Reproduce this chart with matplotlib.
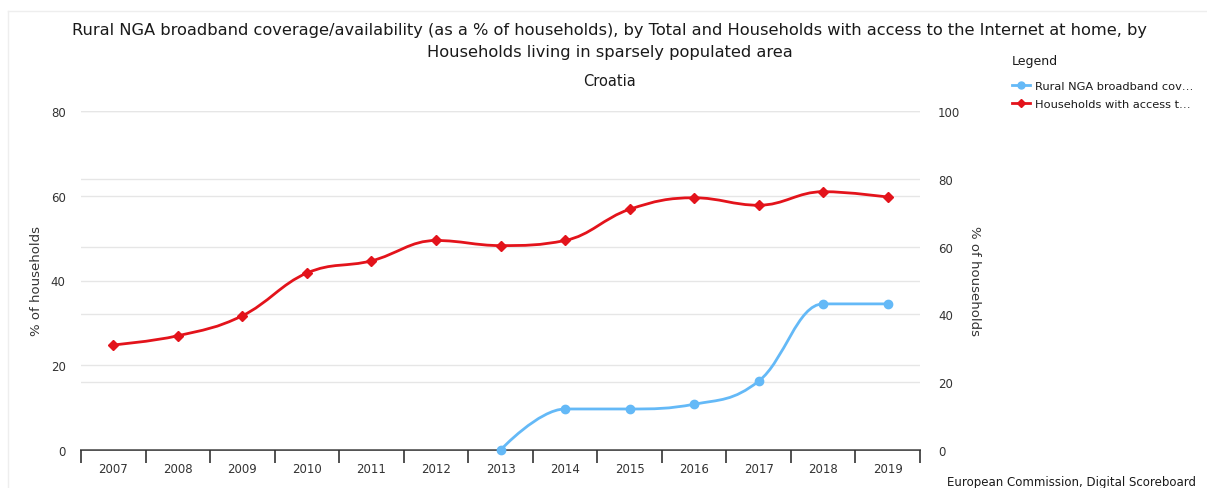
""" Rural NGA coverage vs. households with internet access, Croatia (sparsely populated areas). """

import matplotlib
matplotlib.use('Agg')
import matplotlib.pyplot as plt
from matplotlib.path import Path
from matplotlib.patches import PathPatch
from matplotlib.lines import Line2D
import numpy as np

years = ['2007', '2008', '2009', '2010', '2011', '2012', '2013',
         '2014', '2015', '2016', '2017', '2018', '2019']
# Rural NGA broadband coverage, only from 2013 on
nga_years = ['2013', '2014', '2015', '2016', '2017', '2018', '2019']
nga_vals = [0.0, 12.1, 12.1, 13.5, 20.3, 43.1, 43.1]
# Households with access to the Internet at home (sparsely populated area)
hh_vals = [31.0, 33.7, 39.6, 52.2, 55.8, 61.8, 60.3, 61.8, 71.0, 74.4, 72.2, 76.2, 74.6]

RED = '#e3131b'
BLUE = '#64b9f7'
GRID = '#e6e6e6'
TXT = '#333333'
DARK = '#1a1a1a'


def spline_path(x, y, smoothing=1.5):
    """ Highcharts-like spline: cubic bezier through every point """
    n = len(x)
    verts = [(x[0], y[0])]
    codes = [Path.MOVETO]
    right = [(x[0], y[0])] * n
    left = [(x[0], y[0])] * n
    for i in range(n):
        if i == 0 or i == n - 1:
            left[i] = (x[i], y[i])
            right[i] = (x[i], y[i])
            continue
        d = smoothing + 1
        lx = (smoothing * x[i] + x[i-1]) / d
        ly = (smoothing * y[i] + y[i-1]) / d
        rx = (smoothing * x[i] + x[i+1]) / d
        ry = (smoothing * y[i] + y[i+1]) / d
        corr = 0
        if rx != lx:
            corr = (ry - ly) * (rx - x[i]) / (rx - lx) + y[i] - ry
        ly += corr
        ry += corr
        if ly > y[i-1] and ly > y[i]:
            ly = max(y[i-1], y[i]); ry = 2*y[i] - ly
        elif ly < y[i-1] and ly < y[i]:
            ly = min(y[i-1], y[i]); ry = 2*y[i] - ly
        if ry > y[i+1] and ry > y[i]:
            ry = max(y[i+1], y[i]); ly = 2*y[i] - ry
        elif ry < y[i+1] and ry < y[i]:
            ry = min(y[i+1], y[i]); ly = 2*y[i] - ry
        left[i] = (lx, ly)
        right[i] = (rx, ry)
    for i in range(1, n):
        verts += [right[i-1], left[i], (x[i], y[i])]
        codes += [Path.CURVE4] * 3
    return Path(verts, codes)


plt.rcParams['font.family'] = ['DejaVu Sans']
W, H = 1207, 489
fig = plt.figure(figsize=(W/100, H/100), dpi=100)
fig.patch.set_facecolor('white')

ax = fig.add_axes([81/W, 1 - 451/H, 839/W, 339/H])
ax2 = ax.twinx()

xs = np.arange(len(years))
ax.set_xlim(-0.5, len(years) - 0.5)
ax.set_ylim(0, 80)
ax2.set_ylim(0, 100)
ax.set_yticks([0, 20, 40, 60, 80])
ax2.set_yticks([0, 20, 40, 60, 80, 100])

for a in (ax, ax2):
    for s in ['top', 'left', 'right', 'bottom']:
        a.spines[s].set_visible(False)
    a.tick_params(axis='y', length=0, labelsize=8.5, labelcolor=TXT)
    a.grid(axis='y', color=GRID, lw=1)
    a.set_axisbelow(True)
ax.spines['bottom'].set_visible(True)
ax.spines['bottom'].set_color(TXT)
ax.spines['bottom'].set_linewidth(1.2)
ax.tick_params(axis='y', pad=11)
ax2.tick_params(axis='y', pad=13)

ax.set_xticks(xs)
ax.set_xticklabels(years)
ax.set_xticks(np.arange(len(years) + 1) - 0.5, minor=True)
ax.tick_params(axis='x', which='major', length=0, pad=9, labelsize=8.5, labelcolor=TXT)
ax.tick_params(axis='x', which='minor', length=9, width=1.2, color=TXT, direction='out')

ax.set_ylabel('% of households', fontsize=9.5, color=TXT, labelpad=6)
ax2.set_ylabel('% of households', fontsize=9.5, color=TXT, rotation=270, labelpad=15)

# households line (right axis)
hx = [float(i) for i in xs]
ax2.add_patch(PathPatch(spline_path(hx, hh_vals), fill=False, ec=RED, lw=2, zorder=3))
ax2.plot(hx, hh_vals, ls='none', marker='D', ms=5, color=RED, zorder=4)

# NGA line (right axis)
nx = [float(years.index(y)) for y in nga_years]
ax2.add_patch(PathPatch(spline_path(nx, nga_vals), fill=False, ec=BLUE, lw=2, zorder=3))
ax2.plot(nx, nga_vals, ls='none', marker='o', ms=6, color=BLUE, zorder=4, clip_on=False)

fig.text(610/W, 1 - 31/H, 'Rural NGA broadband coverage/availability (as a % of households), by Total and Households with access to the Internet at home, by',
         ha='center', va='center', fontsize=11.7, color=DARK)
fig.text(610/W, 1 - 52/H, 'Households living in sparsely populated area',
         ha='center', va='center', fontsize=11.7, color=DARK)
fig.text(609/W, 1 - 82/H, 'Croatia', ha='center', va='center', fontsize=10.5, color=DARK)

handles = [Line2D([], [], color=BLUE, lw=2, marker='o', ms=5),
           Line2D([], [], color=RED, lw=2, marker='D', ms=4)]
leg = fig.legend(handles, ['Rural NGA broadband cov\u2026', 'Households with access t\u2026'],
                 loc='upper left', bbox_to_anchor=(1012/W, 1 - 55/H), frameon=False,
                 fontsize=8.2, title='Legend', title_fontsize=9, handlelength=1.6,
                 handletextpad=0.4, labelspacing=0.75, borderaxespad=0, borderpad=0)
leg._legend_box.align = 'left'
leg._legend_box.sep = 10
for t in leg.get_texts():
    t.set_color(DARK)
leg.get_title().set_color(DARK)

fig.text(947/W, 1 - 483/H, 'European Commission, Digital Scoreboard', ha='left', va='center',
         fontsize=8.5, color=DARK)

# faint container frame
fig.add_artist(Line2D([8/W, 1], [1 - 12/H, 1 - 12/H], color='#eeeeee', lw=1))
fig.add_artist(Line2D([8/W, 8/W], [0, 1 - 12/H], color='#eeeeee', lw=1))

fig.savefig('out.png', dpi=100)
